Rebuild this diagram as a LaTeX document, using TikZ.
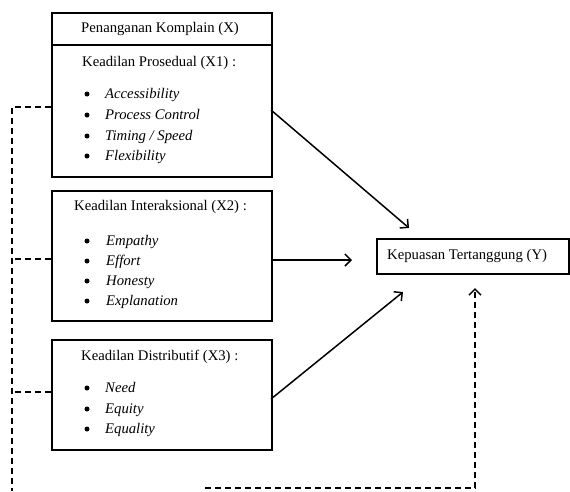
\documentclass[tikz,border=0pt]{standalone}
\usepackage{fontspec}
\setmainfont{Liberation Serif}
\usetikzlibrary{arrows.meta}
\begin{document}
\begin{tikzpicture}[x=1pt,y=-1pt,
  box/.style={draw, line width=1.7pt, inner sep=0pt, anchor=north west},
  lbl/.style={anchor=base west, inner sep=0pt, font=\fontsize{14.7}{17}\selectfont},
  itm/.style={anchor=base west, inner sep=0pt, font=\fontsize{14.7}{17}\selectfont\itshape},
  dot/.style={circle, fill, inner sep=0pt, minimum size=5pt},
  tip/.style={-{Straight Barb[length=6pt,width=12pt,line width=1.5pt]}},
  conn/.style={line width=1.5pt, tip},
  dconn/.style={line width=1.7pt, dash pattern=on 6pt off 4pt},
]
\useasboundingbox (0,0) rectangle (570,491);
% boxes
\node[box, minimum width=220pt, minimum height=32pt] (bx) at (51,12) {};
\node[box, minimum width=220pt, minimum height=132pt] (bx1) at (51,44) {};
\node[box, minimum width=220pt, minimum height=130pt] (bx2) at (51,190) {};
\node[box, minimum width=220pt, minimum height=110pt] (bx3) at (51,339) {};
\node[box, minimum width=192pt, minimum height=35pt] (by) at (376,238) {};
% texts (baselines)
\node[lbl] (tX) at (81,32) {Penanganan Komplain (X)};
\node[lbl] (tX1) at (82,66) {Keadilan Prosedual (X1) :};
\node[dot] (d11) at (87,94) {}; \node[itm] (i11) at (105,98) {Accessibility};
\node[dot] (d12) at (87,115) {}; \node[itm] (i12) at (105,119) {Process Control};
\node[dot] (d13) at (87,136) {}; \node[itm] (i13) at (105,140) {Timing / Speed};
\node[dot] (d14) at (87,156) {}; \node[itm] (i14) at (105,160) {Flexibility};
\node[lbl] (tX2) at (74,210) {Keadilan Interaksional (X2) :};
\node[dot] (d21) at (87,241) {}; \node[itm] (i21) at (106,245) {Empathy};
\node[dot] (d22) at (87,261) {}; \node[itm] (i22) at (106,265) {Effort};
\node[dot] (d23) at (87,281) {}; \node[itm] (i23) at (106,285) {Honesty};
\node[dot] (d24) at (87,301) {}; \node[itm] (i24) at (106,305) {Explanation};
\node[lbl] (tX3) at (81,360) {Keadilan Distributif (X3) :};
\node[dot] (d31) at (87,388) {}; \node[itm] (i31) at (105,392) {Need};
\node[dot] (d32) at (87,409) {}; \node[itm] (i32) at (105,413) {Equity};
\node[dot] (d33) at (87,429) {}; \node[itm] (i33) at (105,433) {Equality};
\node[lbl] (tY) at (387,259) {Kepuasan Tertanggung (Y)};
% connector coordinates
\coordinate (s1) at (271,110);
\coordinate (e1) at (409,228);
\coordinate (s2) at (271,260);
\coordinate (e2) at (352,260);
\coordinate (s3) at (271,399);
\coordinate (e3) at (403,292);
\draw[conn] (s1) -- (e1);
\draw[conn] (s2) -- (e2);
\draw[conn] (s3) -- (e3);
% dashed
\coordinate (l1) at (51,107);
\coordinate (l2) at (51,259);
\coordinate (l3) at (51,392);
\coordinate (v1) at (12,107);
\coordinate (v2) at (12,259);
\coordinate (v3) at (12,392);
\coordinate (vb) at (12,491);
\draw[dconn] (l1) -- (v1) -- (vb);
\draw[dconn] (l2) -- (v2);
\draw[dconn] (l3) -- (v3);
\coordinate (b0) at (205,488);
\coordinate (b1) at (475,488);
\coordinate (b2) at (475,288);
\draw[dconn, tip] (b0) -- (b1) -- (b2);
\end{tikzpicture}
\end{document}
